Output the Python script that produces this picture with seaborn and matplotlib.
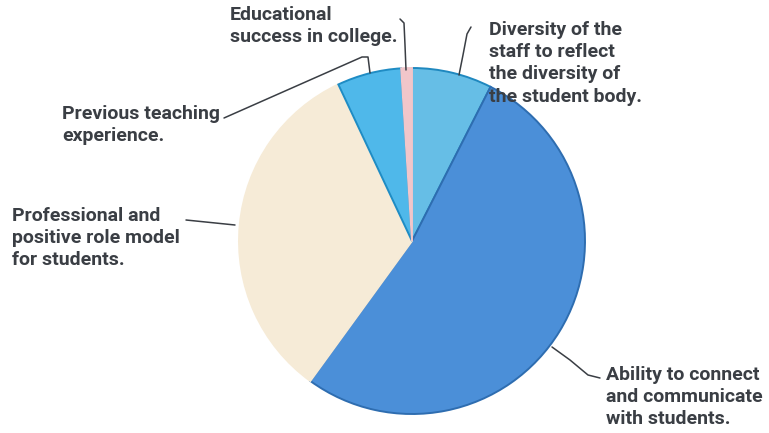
import matplotlib
matplotlib.use("Agg")
import matplotlib.pyplot as plt
import seaborn as sns
import numpy as np

# Data (clockwise from 12 o'clock)
categories = [
    "Diversity of the\nstaff to reflect\nthe diversity of\nthe student body.",
    "Ability to connect\nand communicate\nwith students.",
    "Professional and\npositive role model\nfor students.",
    "Previous teaching\nexperience.",
    "Educational\nsuccess in college.",
]
shares = [7.5, 52.5, 33, 6, 1]
colors = ["#66BEE6", "#4B8FD8", "#F6EBD7", "#4FB8EA", "#F1C6CA"]
edge_colors = ["#1F88BF", "#2E6DB0", "#F6EBD7", "#1F8CC4", "#F1C6CA"]

sns.set_theme(style="white")
plt.rcParams['font.family'] = ['Roboto', 'DejaVu Sans']

W, H = 769, 433
fig = plt.figure(figsize=(W / 100, H / 100), dpi=100)
cx, cy, R = 412, 241, 173
ax = fig.add_axes([(cx - R) / W, 1 - (cy + R) / H, 2 * R / W, 2 * R / H])
ax.set_aspect("equal")

wedges, _ = ax.pie(shares, colors=colors, startangle=90, counterclock=False,
                   radius=1.0, wedgeprops=dict(linewidth=1.4))
for w, ec in zip(wedges, edge_colors):
    w.set_edgecolor(ec)
ax.set_xlim(-1.0, 1.0)
ax.set_ylim(-1.0, 1.0)
ax.axis("off")

def p2d(px, py):
    return ((px - cx) / R, (cy - py) / R)

txt_kw = dict(fontsize=14, fontweight="bold", color="#3A3E44", va="top",
              ha="left", linespacing=1.3)
label_pos = [(489, 21), (606, 366), (12, 207), (62, 105), (230, 6)]
for lab, (px, py) in zip(categories, label_pos):
    x, y = p2d(px, py)
    ax.text(x, y, lab, transform=ax.transData, clip_on=False, **txt_kw)

# connector lines
lines_px = [
    [(471, 27), (467, 34), (463, 55), (459, 75)],
    [(552, 347), (570, 360), (588, 375), (600, 378)],
    [(186, 220), (235, 225)],
    [(224, 118), (362, 57), (368, 57), (370, 73)],
    [(400, 19), (404, 23), (405, 45), (406, 70)],
]
for pts in lines_px:
    xs, ys = zip(*[p2d(*p) for p in pts])
    ax.plot(xs, ys, color="#3A3E44", lw=1.1, clip_on=False)

fig.savefig("out.png", dpi=100)
